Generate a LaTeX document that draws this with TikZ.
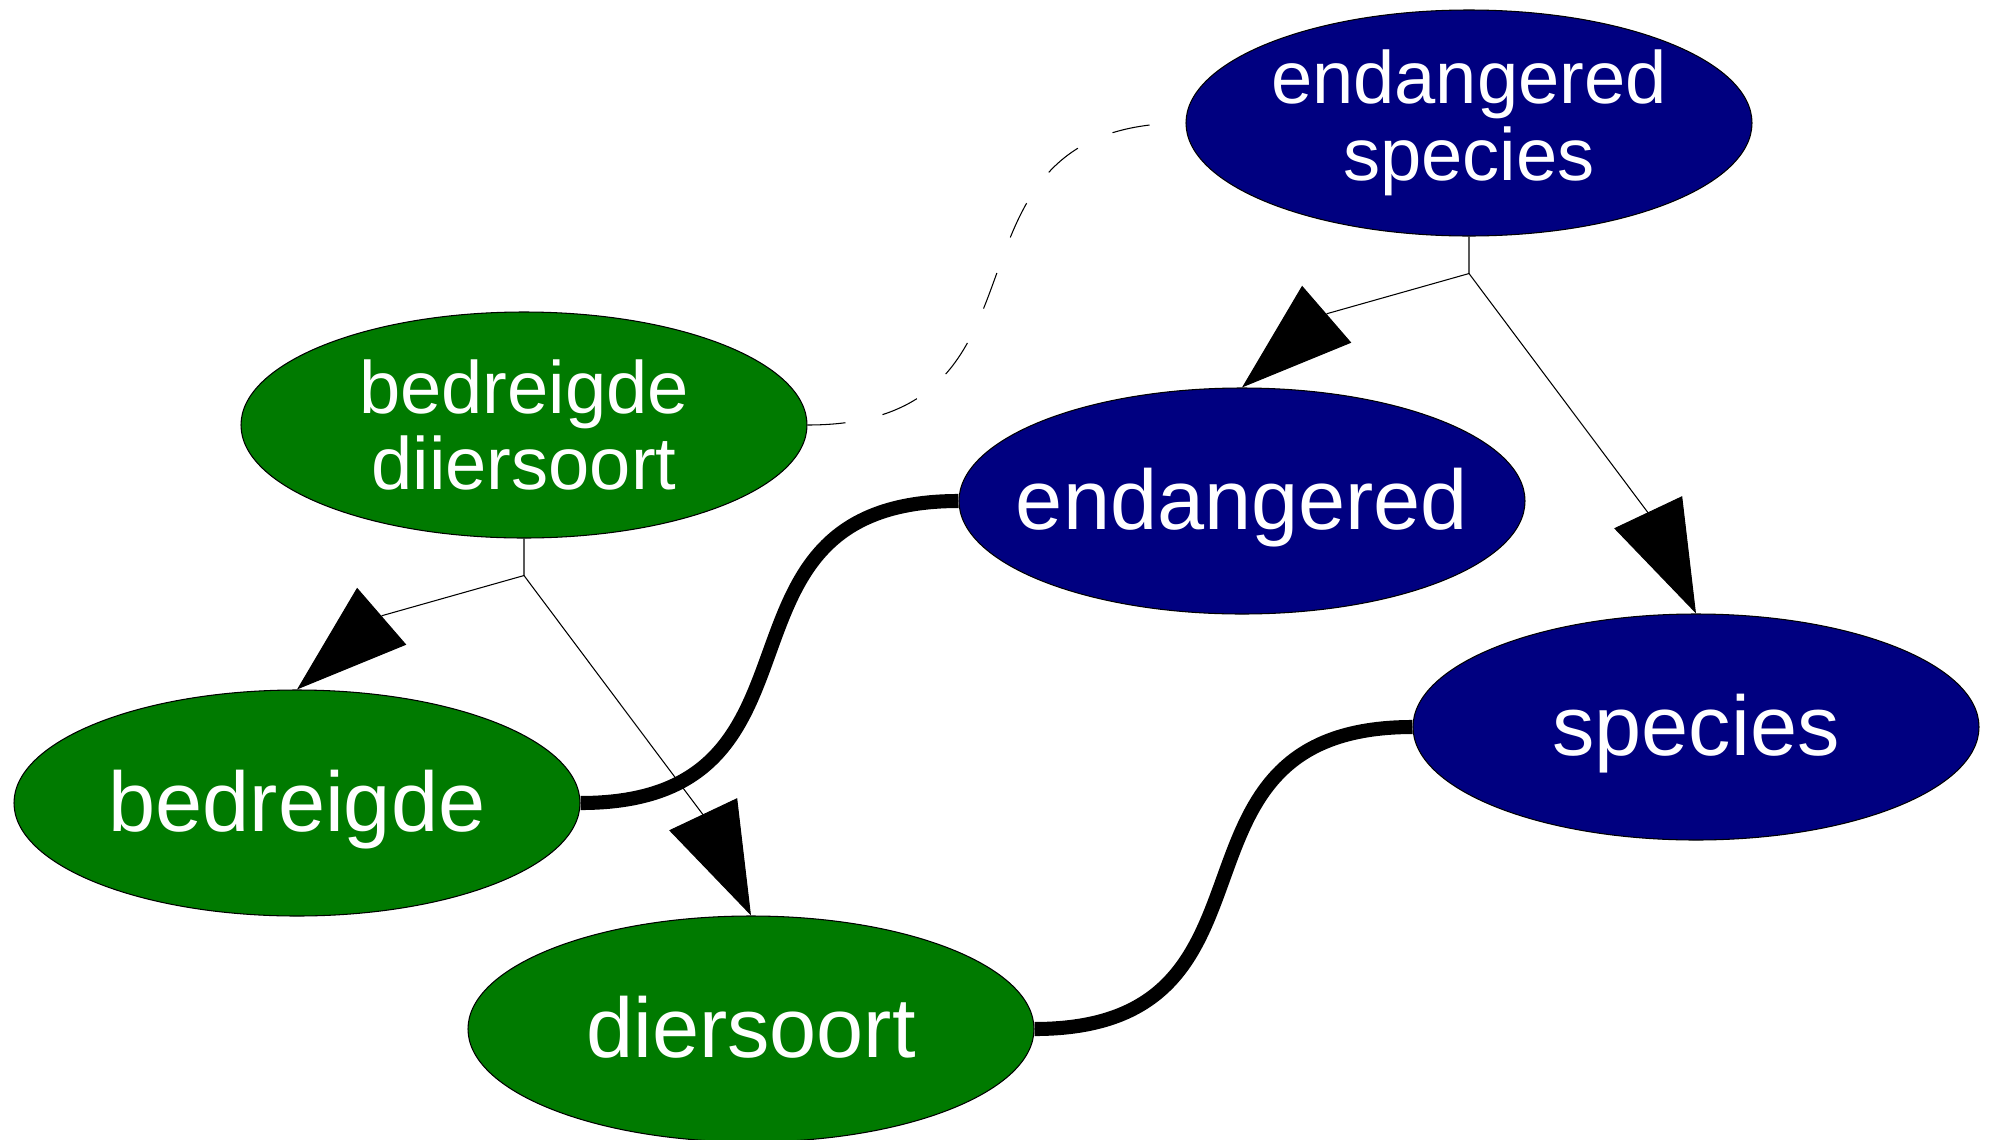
\documentclass[tikz,border=0pt]{standalone}
\usepackage{fontspec}
\setmainfont{Liberation Sans}
\usetikzlibrary{shapes.geometric, positioning, arrows.meta}

\definecolor{nlgreen}{HTML}{007A00}
\definecolor{ennavy}{HTML}{000080}

\begin{document}
\begin{tikzpicture}[on grid,
        term/.style={ellipse, draw=black, line width=0.3pt, inner xsep=-0.4cm, inner ysep=0pt,
            minimum width=5.66cm, minimum height=2.26cm, text=white, align=center,
            font=\fontsize{24.1}{28}\selectfont, text height=0.62cm, text depth=0.05cm},
        nlterm/.style={term, fill=nlgreen},
        enterm/.style={term, fill=ennavy},
        twoline/.style={font=\fontsize{21.1}{21.9}\selectfont, text height=, text depth=},
        broader/.style={line width=0.3pt, -{Triangle[length=1.12cm, width=0.75cm]}},
        synonym/.style={line width=4pt, out=0, in=180, looseness=1.42},
        related/.style={line width=0.3pt, dash pattern=on 0.38cm off 0.38cm,
            out=0, in=180, looseness=1.42}]
            \useasboundingbox (0,0) rectangle (19.91,-11.40);

            \node [enterm, twoline] (ES) at (14.69,-1.23) {endangered\\species};
            \node [enterm, below left = 3.78cm and 2.27cm of ES] (E) {endangered};
            \node [enterm, below right = 2.26cm and 4.54cm of E] (S) {species};

            \node [nlterm, twoline, above left = 0.76cm and 7.18cm of E] (BD) {bedreigde\\diiersoort};
            \node [nlterm, below left = 3.78cm and 2.27cm of BD] (B) {bedreigde};
            \node [nlterm, below right = 2.26cm and 4.54cm of B] (D) {diersoort};

            \coordinate [below = 0.37cm of ES.south] (jES);
            \coordinate [below left = 0.40cm and 1.415cm of jES] (aE);
            \coordinate [below right = 2.405cm and 1.80cm of jES] (aS);

            \coordinate [below = 0.37cm of BD.south] (jBD);
            \coordinate [below left = 0.40cm and 1.415cm of jBD] (aB);
            \coordinate [below right = 2.405cm and 1.80cm of jBD] (aD);

            \draw [broader] (ES.south) -- (jES) -- (aE) -- (E.north);
            \draw [broader] (jES) -- (aS) -- (S.north);

            \draw [broader] (BD.south) -- (jBD) -- (aB) -- (B.north);
            \draw [broader] (jBD) -- (aD) -- (D.north);

            \draw (B.east) edge[synonym] (E.west);
            \draw (D.east) edge[synonym] (S.west);
            \draw (BD.east) edge[related] (ES.west);
        \end{tikzpicture}
\end{document}
